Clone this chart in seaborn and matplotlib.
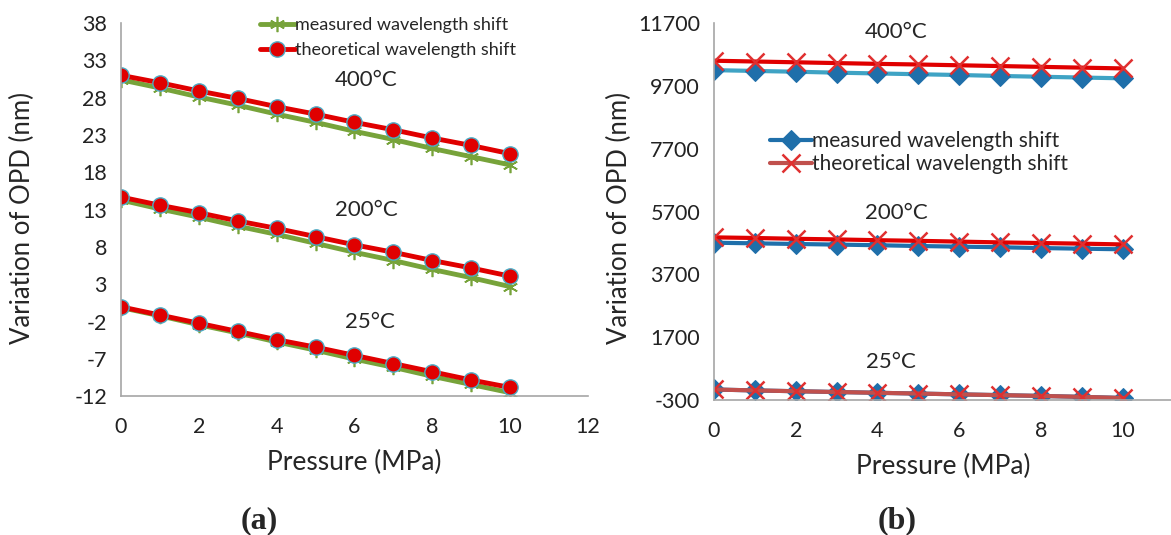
import numpy as np
import pandas as pd
import matplotlib
matplotlib.use("Agg")
import matplotlib.pyplot as plt
import seaborn as sns

# pressure steps (MPa)
pressure = [0, 1, 2, 3, 4, 5, 6, 7, 8, 9, 10]

# (a) variation of OPD, nm
a_meas_400 = [30.4, 29.3, 28.1, 27.0, 25.8, 24.7, 23.5, 22.4, 21.2, 20.1, 19.0]
a_theo_400 = [31.0, 30.0, 28.9, 27.9, 26.8, 25.8, 24.7, 23.7, 22.6, 21.6, 20.5]
a_meas_200 = [14.3, 13.1, 12.0, 10.8, 9.7, 8.5, 7.3, 6.2, 5.0, 3.9, 2.7]
a_theo_200 = [14.7, 13.6, 12.6, 11.5, 10.5, 9.4, 8.3, 7.3, 6.2, 5.2, 4.1]
a_meas_25 = [-0.1, -1.2, -2.4, -3.5, -4.7, -5.8, -7.0, -8.1, -9.3, -10.4, -11.5]
a_theo_25 = [0.0, -1.1, -2.2, -3.3, -4.4, -5.4, -6.5, -7.6, -8.7, -9.8, -10.8]

# (b) variation of OPD, nm
b_meas_400 = [10200, 10175, 10150, 10120, 10095, 10070, 10045, 10015, 9990, 9965, 9940]
b_theo_400 = [10500, 10475, 10450, 10425, 10400, 10380, 10355, 10330, 10305, 10280, 10255]
b_meas_200 = [4710, 4690, 4670, 4650, 4630, 4605, 4585, 4565, 4540, 4520, 4500]
b_theo_200 = [4880, 4860, 4835, 4815, 4790, 4770, 4745, 4720, 4700, 4680, 4655]
b_meas_25 = [40, 10, -15, -40, -65, -90, -115, -140, -165, -195, -230]
b_theo_25 = [40, 10, -15, -40, -65, -90, -115, -140, -165, -195, -230]

a_yticks = [-12, -7, -2, 3, 8, 13, 18, 23, 28, 33, 38]
b_yticks = [-300, 1700, 3700, 5700, 7700, 9700, 11700]
temps = ["400°C", "200°C", "25°C"]

sns.set_style("white")
plt.rcParams['font.family'] = ['Lato', 'DejaVu Sans']
plt.rcParams['axes.unicode_minus'] = False

fig = plt.figure(figsize=(11.71, 5.35), dpi=100)
ax1 = fig.add_axes([0.1033, 0.259, 0.3988, 0.698])
ax2 = fig.add_axes([0.6097, 0.252, 0.391, 0.705])

green = "#77A33A"
red = "#E00000"

# panel (a)
for i, (m, t) in enumerate([(a_meas_400, a_theo_400), (a_meas_200, a_theo_200), (a_meas_25, a_theo_25)]):
    sns.lineplot(x=pressure, y=m, ax=ax1, color=green, lw=3.5, marker=(6, 2, 0),
                 markersize=11, mec=green, mew=1.2,
                 label="measured wavelength shift" if i == 0 else None, legend=False)
    sns.lineplot(x=pressure, y=t, ax=ax1, color=red, lw=3.5, marker="o",
                 markersize=11, mfc=red, mec="#4BACC6", mew=1.0,
                 label="theoretical wavelength shift" if i == 0 else None, legend=False)

# panel (b)
b_series = [
    (b_meas_400, b_theo_400, "#3FA3C4", red),
    (b_meas_200, b_theo_200, "#1F6FAA", red),
    (b_meas_25, b_theo_25, "#1F6FAA", "#C0504D"),
]
for i, (m, t, mc, tc) in enumerate(b_series):
    sns.lineplot(x=pressure, y=m, ax=ax2, color=mc, lw=3, marker="D",
                 markersize=10, mfc="#1F6FAA", mec="#1F6FAA",
                 label="measured wavelength shift" if i == 0 else None, legend=False)
    sns.lineplot(x=pressure, y=t, ax=ax2, color=tc, lw=3, marker="x",
                 markersize=13, mec="#E03030", mew=1.8,
                 label="theoretical wavelength shift" if i == 0 else None, legend=False)

tick_col = "#222222"
for ax in (ax1, ax2):
    for s in ("top", "right"):
        ax.spines[s].set_visible(False)
    for s in ("left", "bottom"):
        ax.spines[s].set_color("#a6a6a6")
        ax.spines[s].set_linewidth(1.2)
    ax.tick_params(axis="both", direction="out", length=5, color="#a6a6a6",
                   labelsize=15.5, labelcolor=tick_col)
    ax.tick_params(axis="x", pad=10)
    ax.tick_params(axis="y", pad=5)
    ax.set_xlabel("Pressure (MPa)", fontsize=19, labelpad=9)
    ax.set_ylabel("Variation of OPD (nm)", fontsize=18.5)

ax1.yaxis.set_label_coords(-0.184, 0.479)
ax2.yaxis.set_label_coords(-0.179, 0.483)

ax1.set_xlim(0, 12)
ax1.set_xticks([0, 2, 4, 6, 8, 10, 12])
ax1.set_ylim(-12, 38)
ax1.set_yticks(a_yticks)

ax2.set_xlim(0, 11.2)
ax2.set_xticks([0, 2, 4, 6, 8, 10])
ax2.set_ylim(-300, 11700)
ax2.set_yticks(b_yticks)
ax2.set_yticklabels([str(v) for v in b_yticks])

# temperature labels
for (x, y), txt in zip([(6.3, 30.4), (6.3, 13.0), (6.4, -2.0)], temps):
    ax1.text(x, y, txt, fontsize=16, ha="center", va="center")
for (x, y), txt in zip([(4.45, 11414), (4.45, 5652), (4.33, 910)], temps):
    ax2.text(x, y, txt, fontsize=16, ha="center", va="center")

leg1 = ax1.legend(loc="upper left", bbox_to_anchor=(0.283, 1.035), frameon=False,
                  fontsize=13, handlelength=1.9, handletextpad=0.0, labelspacing=0.5,
                  borderaxespad=0)
leg2 = ax2.legend(loc="upper left", bbox_to_anchor=(0.105, 0.735), frameon=False,
                  fontsize=15, handlelength=2.0, handletextpad=0.0, labelspacing=0.15,
                  borderaxespad=0)
# legend line for measured in (b) is the dark blue
leg2.get_lines()[0].set_color("#1F6FAA")
leg2.get_lines()[1].set_color("#C0504D")

fig.text(259 / 1171, 1 - 521 / 535, "(a)", fontsize=23, family="Liberation Serif",
         fontweight="bold", ha="center", va="center")
fig.text(897 / 1171, 1 - 521 / 535, "(b)", fontsize=23, family="Liberation Serif",
         fontweight="bold", ha="center", va="center")

fig.savefig("out.png", dpi=100)
